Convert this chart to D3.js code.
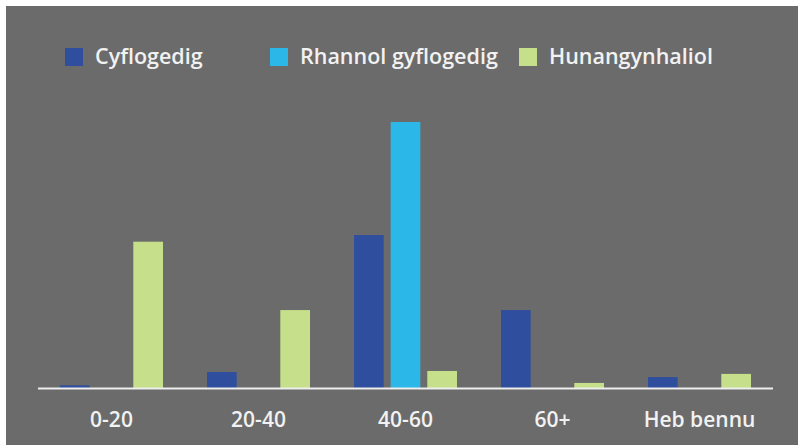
<!DOCTYPE html>
<html><head><meta charset="utf-8">
<script src="https://cdn.jsdelivr.net/npm/d3@7"></script>
<style>html,body{margin:0;padding:0;background:#fff;}svg{display:block;}</style>
</head><body>
<svg id="c" width="798" height="445"></svg>
<script>
const categories = ["0-20", "20-40", "40-60", "60+", "Heb bennu"];
const seriesNames = ["Cyflogedig", "Rhannol gyflogedig", "Hunangynhaliol"];
const cyflogedig = [1, 6, 57.5, 29.3, 4.1];
const rhannol = [0, 0, 100, 0, 0];
const hunangynhaliol = [55, 29.3, 6.4, 1.9, 5.3];
const colors = ["#2f4e9e", "#2bb7e8", "#c6df8a"];

const svg = d3.select("#c");
svg.append("rect").attr("x", 6).attr("y", 6).attr("width", 792).attr("height", 439).attr("fill", "#6b6b6b");

const plotLeft = 38, plotRight = 773, plotBase = 388, plotTop = 122;
const x0 = d3.scaleBand().domain(categories).range([plotLeft, plotRight]).padding(0);
const x1 = d3.scaleBand().domain(seriesNames).range([22, x0.bandwidth() - 22]).paddingInner(0.19).paddingOuter(0);
const y = d3.scaleLinear().domain([0, 100]).range([plotBase, plotTop]);

const series = [cyflogedig, rhannol, hunangynhaliol];
const data = [];
categories.forEach((c, i) => series.forEach((s, j) => data.push({c, k: seriesNames[j], v: s[i], col: colors[j]})));

svg.append("g").selectAll("rect").data(data.filter(d => d.v > 0)).join("rect")
  .attr("x", d => x0(d.c) + x1(d.k))
  .attr("y", d => y(d.v))
  .attr("width", x1.bandwidth())
  .attr("height", d => plotBase - y(d.v))
  .attr("fill", d => d.col);

svg.append("line").attr("x1", plotLeft).attr("x2", plotRight).attr("y1", plotBase + 0.5).attr("y2", plotBase + 0.5)
  .attr("stroke", "#eeeeee").attr("stroke-width", 2);

const ax = svg.append("g").attr("transform", `translate(0,${plotBase})`)
  .call(d3.axisBottom(x0).tickSize(0).tickPadding(0));
ax.select(".domain").remove();
ax.selectAll("text").attr("y", 39).attr("dy", null)
  .attr("fill", "#f2f2f2").style("font-family", "'Open Sans', sans-serif")
  .style("font-size", "21px").style("font-weight", 600);

const legX = [65, 270, 519];
const leg = svg.append("g");
seriesNames.forEach((n, i) => {
  leg.append("rect").attr("x", legX[i]).attr("y", 48).attr("width", 18).attr("height", 18).attr("fill", colors[i]);
  leg.append("text").attr("x", legX[i] + 30).attr("y", 64).text(n)
    .attr("fill", "#f2f2f2").style("font-family", "'Open Sans', sans-serif")
    .style("font-size", "21.5px").style("font-weight", 600);
});
</script>
</body></html>
